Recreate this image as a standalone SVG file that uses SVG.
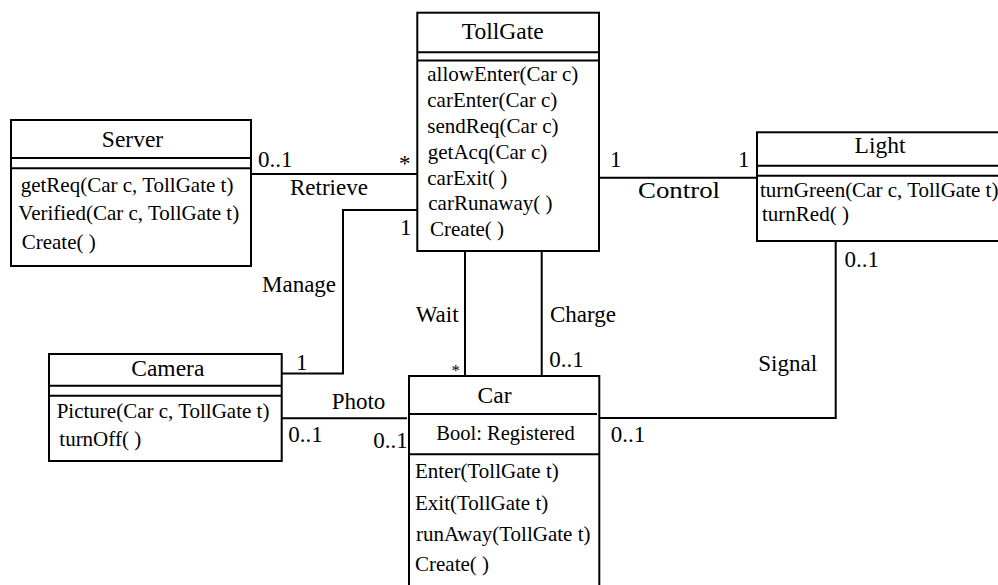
<svg xmlns="http://www.w3.org/2000/svg" width="998" height="585" viewBox="0 0 998 585">
  <style>
    .box { fill: #ffffff; stroke: #000000; stroke-width: 2; }
    .sep { stroke: #000000; stroke-width: 2; fill: none; }
    .link { stroke: #000000; stroke-width: 2; fill: none; }
    text { font-family: "Liberation Serif", "Times New Roman", serif; fill: #000000; }
    .title { font-size: 23.5px; text-anchor: middle; }
    .op { font-size: 21px; }
    .lbl { font-size: 23px; }
  </style>
  <rect width="998" height="585" fill="#ffffff"/>

  <!-- associations -->
  <g id="connectors">
    <line class="link" x1="251" y1="174" x2="417" y2="174"/>
    <polyline class="link" points="417,210 343,210 343,373.5 282,373.5"/>
    <line class="link" x1="599" y1="177.7" x2="757" y2="177.7"/>
    <line class="link" x1="465" y1="251" x2="465" y2="376"/>
    <line class="link" x1="541.7" y1="251" x2="541.7" y2="376"/>
    <line class="link" x1="282" y1="418.3" x2="407" y2="418.3"/>
    <polyline class="link" points="600,418 835.7,418 835.7,241"/>

    <text class="lbl" x="258" y="166.7">0..1</text>
    <text class="lbl" x="399" y="171">*</text>
    <text class="lbl" x="290" y="195">Retrieve</text>
    <text class="lbl" x="400" y="235">1</text>
    <text class="lbl" x="262" y="291.5">Manage</text>
    <text class="lbl" x="296" y="370">1</text>
    <text class="lbl" x="331.7" y="409">Photo</text>
    <text class="lbl" x="288.3" y="441.7">0..1</text>
    <text class="lbl" x="373.3" y="448.3">0..1</text>
    <text class="lbl" x="415.7" y="321.5">Wait</text>
    <text class="lbl" x="451.5" y="376" style="font-size:17px">*</text>
    <text class="lbl" x="550" y="321.5">Charge</text>
    <text class="lbl" x="549.3" y="366.7">0..1</text>
    <text class="lbl" x="610" y="166.7">1</text>
    <text class="lbl" x="738" y="166.7">1</text>
    <text class="lbl" x="638" y="197.5" textLength="82" lengthAdjust="spacingAndGlyphs">Control</text>
    <text class="lbl" x="844.5" y="267.3">0..1</text>
    <text class="lbl" x="758.3" y="370.7">Signal</text>
    <text class="lbl" x="610.7" y="442.3">0..1</text>
  </g>

  <!-- Server class -->
  <g id="server">
    <rect class="box" x="11" y="120" width="240" height="146"/>
    <line class="sep" x1="11" y1="158" x2="251" y2="158"/>
    <line class="sep" x1="11" y1="168.3" x2="251" y2="168.3"/>
    <text class="title" x="132.5" y="146.5">Server</text>
    <text class="op" x="20.7" y="191.5">getReq(Car c, TollGate t)</text>
    <text class="op" x="18.3" y="220">Verified(Car c, TollGate t)</text>
    <text class="op" x="21.7" y="248.5">Create( )</text>
  </g>

  <!-- TollGate class -->
  <g id="tollgate">
    <rect class="box" x="417.3" y="12.7" width="181.7" height="238.3"/>
    <line class="sep" x1="417.3" y1="52.3" x2="599" y2="52.3"/>
    <line class="sep" x1="417.3" y1="60.5" x2="599" y2="60.5"/>
    <text class="title" x="502.8" y="39">TollGate</text>
    <text class="op" x="427.3" y="80.5">allowEnter(Car c)</text>
    <text class="op" x="427.3" y="106.5">carEnter(Car c)</text>
    <text class="op" x="427.3" y="132.5">sendReq(Car c)</text>
    <text class="op" x="427.8" y="158.5">getAcq(Car c)</text>
    <text class="op" x="427.3" y="184.5">carExit( )</text>
    <text class="op" x="428.3" y="210">carRunaway( )</text>
    <text class="op" x="430" y="236">Create( )</text>
  </g>

  <!-- Light class -->
  <g id="light">
    <rect class="box" x="757" y="132.3" width="243" height="108.7"/>
    <line class="sep" x1="757" y1="165.7" x2="1000" y2="165.7"/>
    <line class="sep" x1="757" y1="175.7" x2="1000" y2="175.7"/>
    <text class="title" x="880" y="153">Light</text>
    <text class="op" x="760" y="197">turnGreen(Car c, TollGate t)</text>
    <text class="op" x="762" y="220.5">turnRed( )</text>
  </g>

  <!-- Camera class -->
  <g id="camera">
    <rect class="box" x="49" y="354" width="232.7" height="107"/>
    <line class="sep" x1="49" y1="385.7" x2="281.7" y2="385.7"/>
    <line class="sep" x1="49" y1="395.7" x2="281.7" y2="395.7"/>
    <text class="title" x="167.8" y="375.5">Camera</text>
    <text class="op" x="56.7" y="418">Picture(Car c, TollGate t)</text>
    <text class="op" x="59.3" y="446.3">turnOff( )</text>
  </g>

  <!-- Car class -->
  <g id="car">
    <rect class="box" x="409" y="376" width="190.3" height="220"/>
    <line class="sep" x1="409" y1="414" x2="597" y2="414"/>
    <line class="sep" x1="409" y1="454.3" x2="599.3" y2="454.3"/>
    <text class="title" x="494.5" y="403">Car</text>
    <text class="op" x="505.5" y="440" text-anchor="middle" style="font-size:20.5px">Bool: Registered</text>
    <text class="op" x="415" y="478.3">Enter(TollGate t)</text>
    <text class="op" x="415" y="509.5">Exit(TollGate t)</text>
    <text class="op" x="416" y="541.2">runAway(TollGate t)</text>
    <text class="op" x="415" y="571">Create( )</text>
  </g>
</svg>
